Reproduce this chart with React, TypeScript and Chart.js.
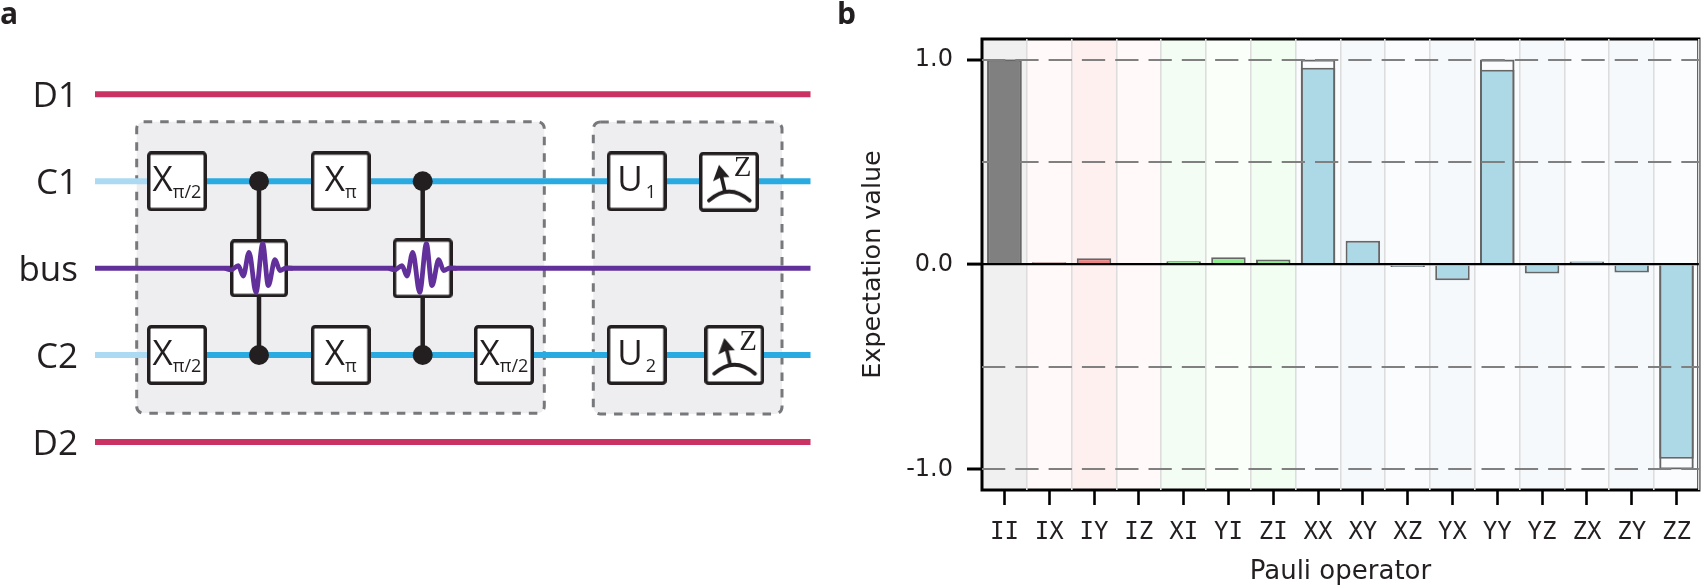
import React, { useEffect, useRef } from "react";
import { Chart, registerables } from "chart.js";

Chart.register(...registerables);

// ---------- panel b data ----------
const categories = ["II", "IX", "IY", "IZ", "XI", "YI", "ZI", "XX", "XY", "XZ", "YX", "YY", "YZ", "ZX", "ZY", "ZZ"];
const measured = [1.0, 0.011, 0.03, 0.004, 0.016, 0.035, 0.025, 0.96, 0.116, -0.012, -0.077, 0.95, -0.044, 0.015, -0.039, -0.947];
const ideal = [1, null, null, null, null, null, null, 1, null, null, null, 1, null, null, null, -1];
const barColors = ["#808080", "#f08080", "#f08080", "#f08080", "#90ee90", "#90ee90", "#90ee90", "#add8e6", "#add8e6", "#add8e6", "#add8e6", "#add8e6", "#add8e6", "#add8e6", "#add8e6", "#add8e6"];
const bandColors = ["#f0f0f0", "#fff9f9", "#fff0f0", "#fff9f9", "#f3fdf3", "#fafffa", "#f3fef3", "#fbfcfe", "#f5f9fc", "#fbfcfe", "#f5f9fc", "#fbfcfe", "#f5f9fc", "#fbfcfe", "#f5f9fc", "#fbfcfe"];
const yTicks = [-1, -0.5, 0, 0.5, 1];
const yLabelled: Record<string, string> = { "-1": "-1.0", "0": "0.0", "1": "1.0" };

// ---------- panel a schematic ----------
const wireLabels = ["D1", "C1", "bus", "C2", "D2"];
const wireRows = [94.3, 181.3, 268.3, 355, 442];
const wireColors = ["#c93263", "#29abe2", "#62309a", "#29abe2", "#c93263"];
const wireWidths = [6, 6, 5, 6, 6];
const wireStartX = 95;
const wireEndX = 810.5;
const feedX = [95, 150];
const feedColor = "#acdaf3";
const controlX = [259, 422.7];
const gateX = [177, 177, 340.7, 340.7, 504, 636.7, 636.7];
const gateRow = [181.3, 355, 181.3, 355, 355, 181.3, 355];
const gateMain = ["X", "X", "X", "X", "X", "U", "U"];
const gateSub = ["π/2", "π/2", "π", "π", "π/2", "1", "2"];
const measureX = [729, 734.3];
const measureRow = [181.8, 355];
const waveBoxSize = [58, 60];
const waveDx = [-34, -28, -20.7, -15.7, -10, -3, 3.7, 9.3, 16, 21, 27, 34];
const waveDy = [0, 1.6, -2.7, 7.7, -16, 24, -24.7, 17.3, -8.7, 2.3, -0.3, 0];
const panelRects = [
  [136.7, 121.7, 544.3, 413.3],
  [593.3, 122, 782, 414],
];

const INK = "#231f20";
const SANS = "'Open Sans'";

function roundedBox(ctx: CanvasRenderingContext2D, x: number, y: number, w: number, h: number, r: number) {
  ctx.beginPath();
  ctx.roundRect(x, y, w, h, r);
}

function makeBox(size: number, drawInside?: (c: CanvasRenderingContext2D) => void) {
  const cv = document.createElement("canvas");
  cv.width = size;
  cv.height = size;
  const c = cv.getContext("2d") as CanvasRenderingContext2D;
  roundedBox(c, 1.75, 1.75, size - 3.5, size - 3.5, 2.5);
  c.fillStyle = "#ffffff";
  c.fill();
  c.lineWidth = 3.5;
  c.strokeStyle = INK;
  c.stroke();
  if (drawInside) drawInside(c);
  return cv;
}

function drawMeter(c: CanvasRenderingContext2D) {
  c.save();
  c.translate(30, 30);
  c.strokeStyle = INK;
  c.fillStyle = INK;
  c.lineWidth = 3.8;
  c.lineCap = "round";
  c.beginPath();
  c.moveTo(-20, 18.7);
  c.quadraticCurveTo(0, 0.7, 20.7, 18.7);
  c.stroke();
  c.lineCap = "butt";
  c.lineWidth = 3.6;
  c.beginPath();
  c.moveTo(-4, 10);
  c.lineTo(-8.2, -8);
  c.stroke();
  c.beginPath();
  c.moveTo(-10, -17);
  c.lineTo(-16, -0.5);
  c.lineTo(-8, -4.5);
  c.lineTo(0.5, -4.7);
  c.closePath();
  c.fill();
  c.restore();
}

const pts = (xs: number[], ys: number[]) => xs.map((x, i) => ({ x, y: ys[i] }));
const asLine = (data: { x: number; y: number }[], color: string, width: number) => ({
  data,
  showLine: true,
  pointRadius: 0,
  borderColor: color,
  borderWidth: width,
  borderCapStyle: "butt" as const,
  tension: 0,
});

const schematicPlugin = {
  id: "schematic",
  beforeDatasetsDraw(chart: any) {
    const { ctx, scales } = chart;
    ctx.save();
    panelRects.forEach(([l, t, r, b]) => {
      const x0 = scales.x.getPixelForValue(l);
      const x1 = scales.x.getPixelForValue(r);
      const y0 = scales.y.getPixelForValue(t);
      const y1 = scales.y.getPixelForValue(b);
      roundedBox(ctx, x0, y0, x1 - x0, y1 - y0, 7);
      ctx.fillStyle = "#eeeef0";
      ctx.fill();
      ctx.setLineDash([8.5, 8]);
      ctx.lineWidth = 3;
      ctx.strokeStyle = "#77787b";
      ctx.stroke();
    });
    ctx.restore();
  },
  afterDatasetsDraw(chart: any) {
    const { ctx, scales } = chart;
    ctx.save();
    ctx.fillStyle = INK;
    ctx.textBaseline = "alphabetic";
    ctx.textAlign = "left";
    ctx.font = `700 30px ${SANS}`;
    ctx.fillText("a", 0, 24);
    ctx.font = `400 35px ${SANS}`;
    ctx.textAlign = "right";
    wireLabels.forEach((t, i) => {
      ctx.fillText(t, 78, scales.y.getPixelForValue(wireRows[i]) + 12.5);
    });
    ctx.textAlign = "left";
    gateMain.forEach((m, i) => {
      const cx = scales.x.getPixelForValue(gateX[i]);
      const cy = scales.y.getPixelForValue(gateRow[i]);
      ctx.font = `400 35px ${SANS}`;
      const w = ctx.measureText(m).width;
      ctx.font = `400 18px ${SANS}`;
      const sw = ctx.measureText(gateSub[i]).width;
      const gap = m === "X" ? 0 : 3;
      const left = cx - (w + gap + sw) / 2;
      ctx.font = `400 35px ${SANS}`;
      ctx.fillText(m, left, cy + 9.5);
      ctx.font = `400 18px ${SANS}`;
      ctx.fillText(gateSub[i], left + w + gap, cy + 16.5);
    });
    ctx.font = "400 29px 'Liberation Serif'";
    ctx.textAlign = "center";
    measureX.forEach((x, i) => {
      ctx.fillText("Z", scales.x.getPixelForValue(x) + 13.7, scales.y.getPixelForValue(measureRow[i]) - 5.5);
    });
    ctx.restore();
  },
};

const framePlugin = {
  id: "frame",
  afterDatasetsDraw(chart: any) {
    const { ctx, chartArea: a } = chart;
    ctx.save();
    ctx.strokeStyle = "#000000";
    ctx.lineWidth = 3;
    ctx.strokeRect(a.left, a.top, a.right - a.left, a.bottom - a.top);
    ctx.restore();
  },
  afterDraw(chart: any) {
    const { ctx } = chart;
    ctx.save();
    ctx.fillStyle = INK;
    ctx.font = `700 30px ${SANS}`;
    ctx.textBaseline = "alphabetic";
    ctx.fillText("b", 7, 24);
    ctx.restore();
  },
};

export default function App() {
  const leftRef = useRef<HTMLCanvasElement>(null);
  const rightRef = useRef<HTMLCanvasElement>(null);

  useEffect(() => {
    const gateImg = makeBox(60);
    const meterImg = makeBox(60, drawMeter);
    const layers: any[] = [
      // bottom to top
      asLine(pts([wireStartX, wireEndX], [wireRows[0], wireRows[0]]), wireColors[0], wireWidths[0]),
      asLine(pts([wireStartX, wireEndX], [wireRows[4], wireRows[4]]), wireColors[4], wireWidths[4]),
      asLine(pts([wireStartX, wireEndX], [wireRows[2], wireRows[2]]), wireColors[2], wireWidths[2]),
      asLine(pts([feedX[1], wireEndX], [wireRows[1], wireRows[1]]), wireColors[1], wireWidths[1]),
      asLine(pts([feedX[1], wireEndX], [wireRows[3], wireRows[3]]), wireColors[3], wireWidths[3]),
      asLine(pts(feedX, [wireRows[1], wireRows[1]]), feedColor, 6),
      asLine(pts(feedX, [wireRows[3], wireRows[3]]), feedColor, 6),
      ...controlX.map((x) => asLine(pts([x, x], [wireRows[1], wireRows[3]]), INK, 4.5)),
      {
        data: controlX.flatMap((x) => [{ x, y: wireRows[1] }, { x, y: wireRows[3] }]),
        pointRadius: 10,
        pointStyle: "circle",
        backgroundColor: INK,
        borderColor: INK,
        borderWidth: 0,
      },
      ...controlX.map((x, i) => ({
        data: [{ x, y: wireRows[2] }],
        pointRadius: 30,
        pointStyle: makeBox(waveBoxSize[i]),
      })),
      { data: pts(gateX, gateRow), pointRadius: 30, pointStyle: gateImg },
      { data: pts(measureX, measureRow), pointRadius: 30, pointStyle: meterImg },
      ...controlX.map((x, i) => ({
        ...asLine(pts(waveDx.map((d) => x + d), waveDy.map((d) => wireRows[2] + d)), wireColors[2], 4.8),
        cubicInterpolationMode: "monotone",
      })),
    ];
    const n = layers.length;
    layers.forEach((d, i) => {
      d.order = n - i;
    });

    const left = new Chart(leftRef.current as HTMLCanvasElement, {
      type: "scatter",
      data: { datasets: layers },
      options: {
        animation: false,
        responsive: false,
        devicePixelRatio: 1,
        layout: { padding: 0, autoPadding: false },
        plugins: { legend: { display: false }, tooltip: { enabled: false } },
        scales: {
          x: { display: false, type: "linear", min: 0, max: 830 },
          y: { display: false, type: "linear", min: 0, max: 588, reverse: true },
        },
      },
      plugins: [schematicPlugin],
    } as any);

    const right = new Chart(rightRef.current as HTMLCanvasElement, {
      type: "bar",
      data: {
        labels: categories,
        datasets: [
          {
            label: "ideal",
            data: ideal,
            order: 0,
            xAxisID: "x",
            grouped: false,
            backgroundColor: "rgba(0,0,0,0)",
            borderColor: "#666666",
            borderWidth: 2,
            borderSkipped: "start",
            barPercentage: 0.77,
            categoryPercentage: 1,
          },
          {
            label: "measured",
            data: measured,
            order: 1,
            xAxisID: "x",
            grouped: false,
            backgroundColor: barColors,
            borderColor: "#666666",
            borderWidth: 2,
            borderSkipped: "start",
            barPercentage: 0.77,
            categoryPercentage: 1,
          },
          {
            label: "band",
            data: categories.map(() => [-1.1, 1.1]),
            order: 2,
            xAxisID: "x",
            grouped: false,
            backgroundColor: bandColors,
            borderWidth: 0,
            barPercentage: 1,
            categoryPercentage: 1,
          },
        ] as any,
      },
      options: {
        animation: false,
        responsive: false,
        devicePixelRatio: 1,
        layout: { padding: { top: 39, right: 2, left: 0, bottom: 0 }, autoPadding: false },
        plugins: { legend: { display: false }, tooltip: { enabled: false } },
        scales: {
          x: {
            type: "category",
            position: "bottom",
            offset: true,
            afterFit: (s: any) => {
              s.height = 98;
            },
            grid: { offset: false, drawOnChartArea: false, drawTicks: true, tickLength: 15, tickWidth: 2.6, tickColor: "#000000" },
            border: { display: false },
            ticks: {
              autoRotate: false,
              maxRotation: 0,
              autoSkip: false,
              padding: 13,
              color: INK,
              font: { family: "'DejaVu Sans Mono'", size: 24 },
            },
            title: {
              display: true,
              text: "Pauli operator",
              color: INK,
              font: { family: "'DejaVu Sans'", size: 26 },
              padding: { top: 0, bottom: 0 },
            },
          },
          xSep: {
            type: "category",
            position: "bottom",
            offset: true,
            afterFit: (s: any) => {
              s.height = 0;
            },
            grid: {
              offset: true,
              z: 1,
              color: (c: any) => (c.index === 0 || c.index >= categories.length ? "rgba(0,0,0,0)" : "#dddddd"),
              lineWidth: 1.6,
              drawTicks: false,
            },
            border: { display: false },
            ticks: { display: false },
          },
          y: {
            type: "linear",
            min: -1.1,
            max: 1.1,
            afterFit: (s: any) => {
              s.width = 152;
            },
            afterBuildTicks: (s: any) => {
              s.ticks = yTicks.map((value) => ({ value }));
            },
            grid: {
              z: 1,
              color: (c: any) => (c.tick && c.tick.value === 0 ? "#000000" : "#808080"),
              lineWidth: (c: any) => (c.tick && c.tick.value === 0 ? 2.2 : 2),
              tickLength: 15,
              tickWidth: 3,
              tickColor: (c: any) => (c.tick && String(c.tick.value) in yLabelled ? "#000000" : "rgba(0,0,0,0)"),
            },
            border: {
              display: false,
              dash: (c: any) => (c.tick && c.tick.value === 0 ? [] : [23.3, 10]),
            },
            ticks: {
              padding: 14,
              color: INK,
              font: { family: "'DejaVu Sans'", size: 24 },
              callback: (v: any) => yLabelled[String(v)] ?? "",
            },
            title: {
              display: true,
              text: "Expectation value",
              color: INK,
              font: { family: "'DejaVu Sans'", size: 25.4 },
              padding: { top: 28, bottom: 0 },
            },
          },
        },
      },
      plugins: [framePlugin],
    } as any);

    return () => {
      left.destroy();
      right.destroy();
    };
  }, []);

  return (
    <div style={{ position: "absolute", left: 0, top: 0, width: 1704, height: 588, background: "#ffffff", overflow: "hidden" }}>
      <canvas ref={leftRef} width={830} height={588} style={{ position: "absolute", left: 0, top: 0, width: 830, height: 588 }} />
      <canvas ref={rightRef} width={874} height={588} style={{ position: "absolute", left: 830, top: 0, width: 874, height: 588 }} />
    </div>
  );
}
